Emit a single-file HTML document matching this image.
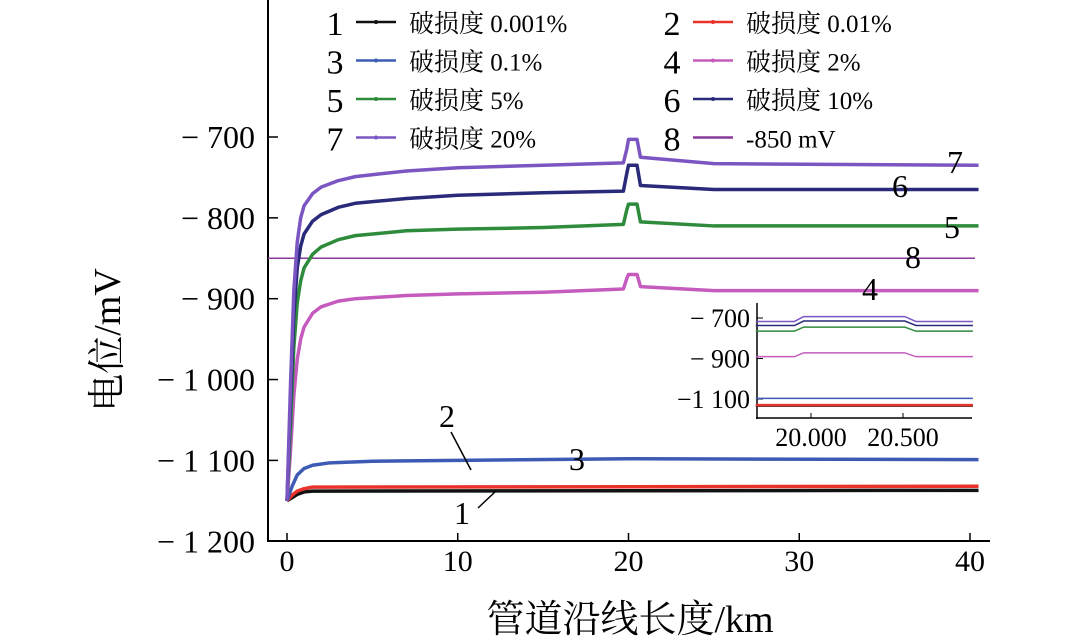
<!DOCTYPE html>
<html><head><meta charset="utf-8"><style>
html,body{margin:0;padding:0;background:#fff;}
svg{display:block;font-family:"Liberation Serif","Noto Serif CJK SC",serif;}
</style></head><body>
<svg id="chart" width="1080" height="643" viewBox="0 0 1080 643" xmlns="http://www.w3.org/2000/svg">
<g id="main"></g>
</svg>
<script>
const yTicks=[-700,-800,-900,-1000,-1100,-1200];
const yTickLabels=["− 700","− 800","− 900","− 1 000","− 1 100","− 1 200"];
const xTicks=[0,10,20,30,40];
const colors=["#111111","#e8322a","#3d5bb5","#c45bbd","#2e8b3c","#2a2a7a","#7b56c2"];
const names=["破损度 0.001%","破损度 0.01%","破损度 0.1%","破损度 2%","破损度 5%","破损度 10%","破损度 20%"];
const s1=[[0,-1150],[0.3,-1146],[0.6,-1142],[1,-1139],[1.5,-1138],[40.5,-1137]];
const s2=[[0,-1150],[0.3,-1143],[0.6,-1138],[1,-1135],[1.5,-1133],[40.5,-1132]];
const s3=[[0,-1150],[0.3,-1132],[0.6,-1118],[1,-1110],[1.5,-1106],[2.5,-1103],[5,-1101],[20,-1098],[40.5,-1099]];
const s4=[[0,-1150],[0.2,-1090],[0.4,-1020],[0.6,-975],[0.8,-950],[1,-935],[1.5,-918],[2,-910],[3,-903],[4,-900],[7,-896],[10,-894],[15,-892],[19.7,-888],[19.9,-875],[20,-870],[20.5,-870],[20.7,-885],[25,-890],[40.5,-890]];
const s5=[[0,-1150],[0.2,-1060],[0.4,-960],[0.6,-905],[0.8,-878],[1,-862],[1.5,-845],[2,-836],[3,-827],[4,-822],[7,-816],[10,-814],[15,-812],[19.7,-808],[19.9,-790],[20,-783],[20.5,-783],[20.7,-805],[25,-810],[40.5,-810]];
const s6=[[0,-1150],[0.2,-1030],[0.4,-920],[0.6,-862],[0.8,-835],[1,-820],[1.5,-804],[2,-796],[3,-787],[4,-782],[7,-776],[10,-772],[15,-769],[19.7,-767],[19.9,-745],[20,-735],[20.5,-735],[20.7,-760],[25,-765],[40.5,-765]];
const s7=[[0,-1150],[0.2,-1010],[0.4,-890],[0.6,-830],[0.8,-800],[1,-785],[1.5,-770],[2,-762],[3,-754],[4,-749],[7,-742],[10,-738],[15,-735],[19.7,-732],[19.9,-715],[20,-703],[20.5,-703],[20.7,-725],[25,-733],[40.5,-735]];
const series=[s1,s2,s3,s4,s5,s6,s7];
const refLine=-850;
const insetBase=[-1133,-1130,-1097,-891,-765,-737,-717];
const insetBump=[-1133,-1130,-1097,-872,-745,-715,-693];
const insetXTicks=[20.0,20.5];
const insetXLabels=["20.000","20.500"];
const insetYTicks=[-700,-900,-1100];
const insetYLabels=["− 700","− 900","−1 100"];

const NS="http://www.w3.org/2000/svg";
const g=document.getElementById('main');
function el(t,a,p){const e=document.createElementNS(NS,t);for(const k in a)e.setAttribute(k,a[k]);(p||g).appendChild(e);return e;}
const X=v=>287+v*17.075;
const Y=v=>137+(v+700)*(-0.8085);

let e=el('line',{x1:268,y1:0,x2:268,y2:542,stroke:'#000','stroke-width':2});

e=el('line',{x1:267,y1:541,x2:990,y2:541,stroke:'#000','stroke-width':2});

yTicks.forEach((v,i)=>{
 el('line',{x1:268,y1:Y(v),x2:278,y2:Y(v),stroke:'#000','stroke-width':1.5});
 const t=el('text',{x:255,y:Y(v)+11,'text-anchor':'end','font-size':32});t.textContent=yTickLabels[i];
 
});
xTicks.forEach(v=>{
 el('line',{x1:X(v),y1:541,x2:X(v),y2:533,stroke:'#000','stroke-width':1.5});
 const t=el('text',{x:X(v),y:571,'text-anchor':'middle','font-size':30});t.textContent=v;
 
});
let t=el('text',{x:630,y:632,'text-anchor':'middle','font-size':38});t.textContent='管道沿线长度/km';

t=el('text',{x:0,y:0,'text-anchor':'middle','font-size':38,transform:'translate(120,340) rotate(-90)'});t.textContent='电位/mV';


e=el('line',{x1:268,y1:Y(refLine),x2:975,y2:Y(refLine),stroke:'#8a3a9a','stroke-width':1.5});


series.forEach((s,i)=>{
 const p=el('polyline',{points:s.map(d=>X(d[0])+','+Y(d[1])).join(' '),fill:'none',stroke:colors[i],'stroke-width':3.5,'stroke-linejoin':'round'});
 
});

const cl=[["1",462,524],["2",447,427],["3",577,470],["4",870,300],["5",952,238],["6",900,197],["7",955,173],["8",913,268]];
cl.forEach(c=>{const t=el('text',{x:c[1],y:c[2],'text-anchor':'middle','font-size':32});t.textContent=c[0];
 });
el('line',{x1:478,y1:508,x2:496,y2:491,stroke:'#000','stroke-width':1.5});
el('line',{x1:451,y1:432,x2:471,y2:470,stroke:'#000','stroke-width':1.5});

const allNames=names.concat(['-850 mV']);
const allColors=colors.concat(['#8a3a9a']);
allNames.forEach((n,i)=>{
 const col=i%2,row=Math.floor(i/2);
 const bx=col?672:335,by=22+row*38.5;
 const lg=el('g',{});
 let tt=el('text',{x:bx,y:by+13,'text-anchor':'middle','font-size':34},lg);tt.textContent=i+1;
 el('line',{x1:bx+21,y1:by,x2:bx+61,y2:by,stroke:allColors[i],'stroke-width':2.5},lg);
 if(i<7)el('circle',{cx:bx+41,cy:by,r:2,fill:allColors[i]},lg);
 tt=el('text',{x:bx+74,y:by+10,'font-size':25},lg);tt.textContent=n;
});

const IX=v=>811+(v-20)*184;
const IY=v=>318+(v+700)*(-0.2025);
const ig=el('g',{});
el('line',{x1:757,y1:303,x2:757,y2:419,stroke:'#000','stroke-width':1.5},ig);
el('line',{x1:756,y1:418,x2:972,y2:418,stroke:'#000','stroke-width':1.5},ig);
insetYTicks.forEach((v,i)=>{el('line',{x1:757,y1:IY(v),x2:763,y2:IY(v),stroke:'#000'},ig);
 const t=el('text',{x:750,y:IY(v)+9,'text-anchor':'end','font-size':26},ig);t.textContent=insetYLabels[i];});
insetXTicks.forEach((v,i)=>{el('line',{x1:IX(v),y1:418,x2:IX(v),y2:413,stroke:'#000'},ig);
 const t=el('text',{x:IX(v),y:446,'text-anchor':'middle','font-size':26},ig);t.textContent=insetXLabels[i];});
insetBase.forEach((b,i)=>{
 const bu=insetBump[i];
 const pts=[[19.7,b],[19.91,b],[19.96,bu],[20.51,bu],[20.57,b],[20.88,b]];
 const p=el('polyline',{points:pts.map(d=>IX(d[0])+','+IY(d[1])).join(' '),fill:'none',stroke:colors[i],'stroke-width':i<2?2.5:1.5},ig);
 
});
</script>
</body></html>
